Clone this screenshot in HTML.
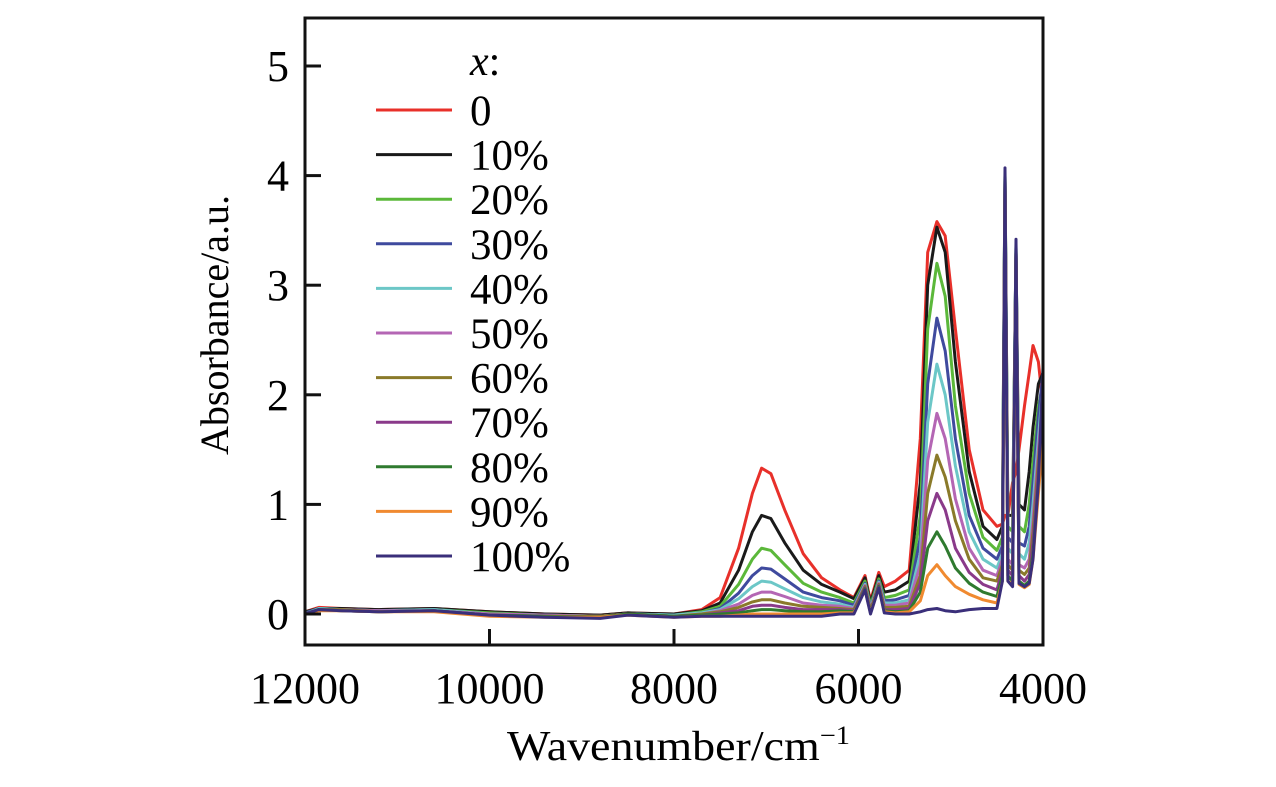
<!DOCTYPE html>
<html><head><meta charset="utf-8">
<style>
html,body{margin:0;padding:0;background:#fff;}
svg{display:block;font-family:"Liberation Serif",serif;}
</style></head>
<body>
<svg id="chart" width="1276" height="787" viewBox="0 0 1276 787" xmlns="http://www.w3.org/2000/svg">
<g id="plot"></g>
<g id="axes"></g>
<g id="legend"></g>
<text x="0" y="0" font-size="40" text-anchor="middle" textLength="260" lengthAdjust="spacingAndGlyphs" transform="translate(228,325) rotate(-90)">Absorbance/a.u.</text>
<text x="507" y="760" font-size="42" textLength="343" lengthAdjust="spacingAndGlyphs">Wavenumber/cm<tspan font-size="26" dy="-16">−1</tspan></text>
</svg>
<script>
const wavenumbers=[12000,11850,11600,11200,10600,10000,9400,8800,8500,8000,7700,7500,7300,7150,7050,6950,6800,6600,6400,6200,6050,5930,5870,5780,5720,5600,5450,5330,5250,5150,5060,4950,4800,4650,4500,4440,4412,4380,4330,4293,4260,4200,4150,4108,4050,4000];
const seriesNames=["0","10%","20%","30%","40%","50%","60%","70%","80%","90%","100%"];
const s0=[0.02,0.06,0.05,0.04,0.05,0.02,0.0,-0.01,0.01,0.0,0.04,0.15,0.6,1.1,1.33,1.28,0.95,0.55,0.33,0.22,0.15,0.35,0.12,0.38,0.25,0.3,0.4,1.6,3.3,3.58,3.45,2.6,1.5,0.95,0.8,0.82,0.9,0.9,1.2,1.3,1.5,1.9,2.2,2.45,2.3,1.9];
const s10=[0.02,0.05,0.05,0.04,0.05,0.02,0.0,-0.01,0.01,0.0,0.03,0.1,0.4,0.75,0.9,0.87,0.65,0.4,0.27,0.2,0.14,0.33,0.1,0.35,0.2,0.22,0.3,1.2,3.0,3.53,3.3,2.3,1.3,0.8,0.68,0.8,4.0,0.9,0.9,3.3,1.0,0.95,1.3,1.7,2.1,2.2];
const s20=[0.01,0.05,0.04,0.03,0.04,0.01,-0.01,-0.02,0.0,-0.01,0.02,0.07,0.27,0.5,0.6,0.58,0.45,0.28,0.2,0.15,0.1,0.3,0.08,0.32,0.15,0.17,0.22,0.9,2.6,3.2,2.9,1.9,1.1,0.7,0.58,0.7,4.05,0.8,0.75,3.35,0.8,0.75,1.0,1.4,1.9,2.1];
const s30=[0.01,0.05,0.04,0.03,0.04,0.0,-0.01,-0.02,0.0,-0.01,0.01,0.05,0.19,0.35,0.42,0.41,0.32,0.2,0.15,0.12,0.08,0.28,0.06,0.3,0.12,0.13,0.17,0.7,2.1,2.7,2.4,1.6,0.9,0.6,0.5,0.62,4.0,0.7,0.65,3.38,0.65,0.62,0.8,1.2,1.8,2.2];
const s40=[0.0,0.05,0.04,0.03,0.04,0.0,-0.01,-0.02,0.0,-0.01,0.01,0.04,0.14,0.25,0.3,0.29,0.23,0.15,0.11,0.09,0.06,0.27,0.05,0.29,0.1,0.1,0.13,0.55,1.75,2.28,2.0,1.35,0.75,0.5,0.42,0.55,3.95,0.6,0.55,3.35,0.55,0.5,0.65,1.0,1.6,2.1];
const s50=[0.0,0.04,0.04,0.03,0.03,0.0,-0.01,-0.02,0.0,-0.02,0.0,0.03,0.09,0.17,0.2,0.2,0.16,0.1,0.08,0.07,0.05,0.26,0.04,0.28,0.08,0.08,0.1,0.45,1.4,1.83,1.6,1.05,0.6,0.4,0.35,0.5,3.9,0.5,0.45,3.3,0.45,0.42,0.5,0.85,1.5,2.0];
const s60=[0.0,0.04,0.04,0.02,0.03,-0.01,-0.02,-0.02,0.0,-0.02,0.0,0.02,0.06,0.11,0.13,0.13,0.1,0.07,0.06,0.05,0.04,0.25,0.03,0.27,0.06,0.06,0.07,0.35,1.1,1.45,1.25,0.85,0.5,0.33,0.3,0.45,3.9,0.45,0.4,3.3,0.4,0.36,0.42,0.75,1.4,1.9];
const s70=[0.0,0.04,0.03,0.02,0.03,-0.01,-0.02,-0.03,0.0,-0.02,-0.01,0.01,0.03,0.07,0.08,0.08,0.06,0.04,0.04,0.04,0.03,0.24,0.02,0.26,0.04,0.04,0.05,0.28,0.85,1.1,0.95,0.6,0.38,0.27,0.22,0.4,3.95,0.4,0.35,3.3,0.35,0.3,0.36,0.65,1.3,1.8];
const s80=[0.0,0.04,0.03,0.02,0.03,-0.01,-0.02,-0.03,0.0,-0.02,-0.01,0.0,0.01,0.03,0.04,0.04,0.03,0.02,0.02,0.03,0.02,0.23,0.02,0.25,0.03,0.02,0.03,0.2,0.6,0.75,0.62,0.42,0.28,0.2,0.16,0.35,4.0,0.35,0.3,3.35,0.3,0.26,0.3,0.55,1.2,1.7];
const s90=[0.0,0.03,0.03,0.02,0.02,-0.02,-0.03,-0.03,-0.01,-0.03,-0.02,-0.02,-0.01,0.0,0.0,0.0,0.0,0.0,0.0,0.01,0.01,0.22,0.01,0.24,0.02,0.01,0.02,0.12,0.35,0.45,0.35,0.25,0.18,0.13,0.1,0.3,3.95,0.3,0.27,3.3,0.27,0.24,0.27,0.5,1.1,1.6];
const s100=[0.0,0.04,0.03,0.02,0.03,-0.01,-0.03,-0.04,-0.01,-0.03,-0.02,-0.02,-0.02,-0.02,-0.02,-0.02,-0.02,-0.02,-0.02,0.0,0.0,0.22,0.0,0.24,0.01,0.0,0.0,0.02,0.04,0.05,0.03,0.02,0.04,0.05,0.05,0.3,4.07,0.3,0.25,3.42,0.28,0.25,0.28,0.5,1.2,2.25];
const seriesValues=[s0,s10,s20,s30,s40,s50,s60,s70,s80,s90,s100];
const xTicks=[12000,10000,8000,6000,4000];
const yTicks=[0,1,2,3,4,5];

const colors=["#e8302a","#1a1a1a","#5bb83a","#3f4a9e","#6cc7c7","#b466b4","#8a7a2a","#8a3a8a","#2f7a2f","#f08a30","#3a2f7a"];
const L=305,R=1043,T=18,B=645;
function xs(w){return L+(12000-w)/8000*(R-L);}
function ys(v){return 614-v*109.6;}
const NS="http://www.w3.org/2000/svg";
function mk(tag,attrs,parent){const e=document.createElementNS(NS,tag);for(const k in attrs)e.setAttribute(k,attrs[k]);parent.appendChild(e);return e;}
const plot=document.getElementById('plot'),axes=document.getElementById('axes'),legend=document.getElementById('legend');
const clip=mk('clipPath',{id:'cp'},plot);mk('rect',{x:L,y:T,width:R-L,height:B-T},clip);
seriesValues.forEach((vals,i)=>{
  const d=vals.map((v,j)=>(j?'L':'M')+xs(wavenumbers[j]).toFixed(1)+','+ys(v).toFixed(1)).join(' ');
  const p=mk('path',{d:d,fill:'none',stroke:colors[i],'stroke-width':3,'stroke-linejoin':'round','clip-path':'url(#cp)'},plot);
  
  
});
const fr=mk('rect',{x:L,y:T,width:R-L,height:B-T,fill:'none',stroke:'#111','stroke-width':3},axes);


yTicks.forEach(t=>{
  const y=ys(t);
  const tk=mk('line',{x1:L,x2:L+16,y1:y,y2:y,stroke:'#111','stroke-width':3},axes);
  
  
  const tx=mk('text',{x:L-16,y:y+15,'font-size':44,'text-anchor':'end'},axes);
  tx.textContent=t;
  
  
});
xTicks.forEach(t=>{
  const x=xs(t);
  const tk=mk('line',{x1:x,x2:x,y1:B,y2:B-16,stroke:'#111','stroke-width':3},axes);
  
  
  const tx=mk('text',{x:x,y:703,'font-size':44,'text-anchor':'middle'},axes);
  tx.textContent=t;
  
  
});
const lt=mk('text',{x:470,y:75,'font-size':42},legend);
lt.innerHTML='<tspan font-style="italic">x</tspan>:';


seriesNames.forEach((n,i)=>{
  const y=110+i*44.6;
  const ln=mk('line',{x1:376,x2:452,y1:y,y2:y,stroke:colors[i],'stroke-width':3},legend);
  
  
  const tx=mk('text',{x:470,y:y+15,'font-size':43},legend);
  tx.textContent=n;
  
  
});
</script>
</body></html>
